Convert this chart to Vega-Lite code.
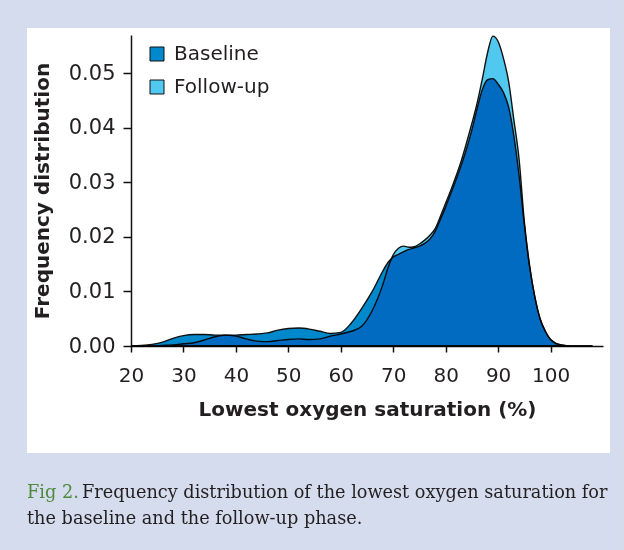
{
  "$schema": "https://vega.github.io/schema/vega-lite/v6.json",
  "width": 472,
  "height": 311,
  "autosize": {"type": "none"},
  "padding": {"left": 131, "top": 35, "right": 21, "bottom": 204},
  "background": "white",
  "config": {
    "view": {"stroke": null},
    "font": "DejaVu Sans",
    "axis": {
      "grid": false, "ticks": true, "domainColor": "#111", "domainWidth": 1.5,
      "tickColor": "#111", "tickWidth": 1.5, "labelFlush": false,
      "labelFont": "DejaVu Sans", "labelColor": "#231f20",
      "titleFont": "DejaVu Sans", "titleFontSize": 20, "titleFontWeight": "bold", "titleColor": "#231f20"
    },
    "axisX": {"tickSize": 6, "labelPadding": 13, "labelFontSize": 20, "titlePadding": 14},
    "axisY": {"tickSize": 8, "labelPadding": 8, "labelFontSize": 21, "titlePadding": 16}
  },
  "datasets": {
    "density": [
      {"s":20,"d":0,"p":"Baseline"},{"s":22,"d":0.0001,"p":"Baseline"},{"s":24,"d":0.0003,"p":"Baseline"},{"s":26,"d":0.0007,"p":"Baseline"},{"s":28,"d":0.0014,"p":"Baseline"},{"s":30,"d":0.0019,"p":"Baseline"},{"s":32,"d":0.0021,"p":"Baseline"},{"s":34,"d":0.0021,"p":"Baseline"},{"s":36,"d":0.0020,"p":"Baseline"},{"s":38,"d":0.0020,"p":"Baseline"},{"s":40,"d":0.0020,"p":"Baseline"},{"s":42,"d":0.0021,"p":"Baseline"},{"s":44,"d":0.0022,"p":"Baseline"},{"s":46,"d":0.0024,"p":"Baseline"},{"s":48,"d":0.0029,"p":"Baseline"},{"s":50,"d":0.0032,"p":"Baseline"},{"s":52,"d":0.0033,"p":"Baseline"},{"s":54,"d":0.0031,"p":"Baseline"},{"s":56,"d":0.0027,"p":"Baseline"},{"s":58,"d":0.0023,"p":"Baseline"},{"s":60,"d":0.0025,"p":"Baseline"},{"s":62,"d":0.0042,"p":"Baseline"},{"s":64,"d":0.0069,"p":"Baseline"},{"s":66,"d":0.0100,"p":"Baseline"},{"s":68,"d":0.0137,"p":"Baseline"},{"s":69,"d":0.0153,"p":"Baseline"},{"s":70,"d":0.0163,"p":"Baseline"},{"s":71,"d":0.0168,"p":"Baseline"},{"s":72,"d":0.0173,"p":"Baseline"},{"s":73,"d":0.0177,"p":"Baseline"},{"s":74,"d":0.0180,"p":"Baseline"},{"s":75,"d":0.0183,"p":"Baseline"},{"s":76,"d":0.0188,"p":"Baseline"},{"s":77,"d":0.0196,"p":"Baseline"},{"s":78,"d":0.0210,"p":"Baseline"},{"s":79,"d":0.0232,"p":"Baseline"},{"s":80,"d":0.0255,"p":"Baseline"},{"s":81,"d":0.0280,"p":"Baseline"},{"s":82,"d":0.0305,"p":"Baseline"},{"s":83,"d":0.0332,"p":"Baseline"},{"s":84,"d":0.0362,"p":"Baseline"},{"s":85,"d":0.0396,"p":"Baseline"},{"s":86,"d":0.0435,"p":"Baseline"},{"s":87,"d":0.0470,"p":"Baseline"},{"s":88,"d":0.0488,"p":"Baseline"},{"s":89,"d":0.0490,"p":"Baseline"},{"s":90,"d":0.0480,"p":"Baseline"},{"s":91,"d":0.0465,"p":"Baseline"},{"s":92,"d":0.0438,"p":"Baseline"},{"s":93,"d":0.0385,"p":"Baseline"},{"s":94,"d":0.0312,"p":"Baseline"},{"s":95,"d":0.0222,"p":"Baseline"},{"s":96,"d":0.0145,"p":"Baseline"},{"s":97,"d":0.0090,"p":"Baseline"},{"s":98,"d":0.0050,"p":"Baseline"},{"s":99,"d":0.0027,"p":"Baseline"},{"s":100,"d":0.0012,"p":"Baseline"},{"s":101,"d":0.0005,"p":"Baseline"},{"s":102,"d":0.0002,"p":"Baseline"},{"s":104,"d":0,"p":"Baseline"},{"s":108,"d":0,"p":"Baseline"},
      {"s":20,"d":0,"p":"Follow-up"},{"s":22,"d":0,"p":"Follow-up"},{"s":24,"d":0,"p":"Follow-up"},{"s":26,"d":0.0001,"p":"Follow-up"},{"s":28,"d":0.0002,"p":"Follow-up"},{"s":30,"d":0.0004,"p":"Follow-up"},{"s":32,"d":0.0006,"p":"Follow-up"},{"s":34,"d":0.0011,"p":"Follow-up"},{"s":36,"d":0.0017,"p":"Follow-up"},{"s":38,"d":0.0020,"p":"Follow-up"},{"s":40,"d":0.0018,"p":"Follow-up"},{"s":42,"d":0.0013,"p":"Follow-up"},{"s":44,"d":0.0009,"p":"Follow-up"},{"s":46,"d":0.0008,"p":"Follow-up"},{"s":48,"d":0.0010,"p":"Follow-up"},{"s":50,"d":0.0012,"p":"Follow-up"},{"s":52,"d":0.0013,"p":"Follow-up"},{"s":54,"d":0.0012,"p":"Follow-up"},{"s":56,"d":0.0013,"p":"Follow-up"},{"s":58,"d":0.0018,"p":"Follow-up"},{"s":60,"d":0.0022,"p":"Follow-up"},{"s":62,"d":0.0027,"p":"Follow-up"},{"s":64,"d":0.0036,"p":"Follow-up"},{"s":66,"d":0.0065,"p":"Follow-up"},{"s":68,"d":0.0112,"p":"Follow-up"},{"s":69,"d":0.0143,"p":"Follow-up"},{"s":70,"d":0.0167,"p":"Follow-up"},{"s":71,"d":0.0179,"p":"Follow-up"},{"s":72,"d":0.0183,"p":"Follow-up"},{"s":73,"d":0.0181,"p":"Follow-up"},{"s":74,"d":0.0182,"p":"Follow-up"},{"s":75,"d":0.0187,"p":"Follow-up"},{"s":76,"d":0.0194,"p":"Follow-up"},{"s":77,"d":0.0203,"p":"Follow-up"},{"s":78,"d":0.0215,"p":"Follow-up"},{"s":79,"d":0.0238,"p":"Follow-up"},{"s":80,"d":0.0262,"p":"Follow-up"},{"s":81,"d":0.0286,"p":"Follow-up"},{"s":82,"d":0.0312,"p":"Follow-up"},{"s":83,"d":0.0340,"p":"Follow-up"},{"s":84,"d":0.0373,"p":"Follow-up"},{"s":85,"d":0.0408,"p":"Follow-up"},{"s":86,"d":0.0445,"p":"Follow-up"},{"s":87,"d":0.0490,"p":"Follow-up"},{"s":88,"d":0.0538,"p":"Follow-up"},{"s":89,"d":0.0568,"p":"Follow-up"},{"s":90,"d":0.0558,"p":"Follow-up"},{"s":91,"d":0.0528,"p":"Follow-up"},{"s":92,"d":0.0485,"p":"Follow-up"},{"s":93,"d":0.0415,"p":"Follow-up"},{"s":94,"d":0.0342,"p":"Follow-up"},{"s":95,"d":0.0228,"p":"Follow-up"},{"s":96,"d":0.0148,"p":"Follow-up"},{"s":97,"d":0.0090,"p":"Follow-up"},{"s":98,"d":0.0050,"p":"Follow-up"},{"s":99,"d":0.0027,"p":"Follow-up"},{"s":100,"d":0.0012,"p":"Follow-up"},{"s":101,"d":0.0005,"p":"Follow-up"},{"s":102,"d":0.0002,"p":"Follow-up"},{"s":104,"d":0,"p":"Follow-up"},{"s":108,"d":0,"p":"Follow-up"}
    ]
  },
  "layer": [
    {
      "data": {"name": "density"},
      "mark": {"type": "area", "interpolate": "monotone", "blend": "multiply", "stroke": "#111", "strokeWidth": 1.4},
      "encoding": {
        "x": {"field": "s", "type": "quantitative", "scale": {"domain": [20, 110], "nice": false, "zero": false}, "axis": {"title": "Lowest oxygen saturation (%)", "values": [20, 30, 40, 50, 60, 70, 80, 90, 100]}},
        "y": {"field": "d", "type": "quantitative", "stack": null, "scale": {"domain": [0, 0.057], "nice": false, "zero": true}, "axis": {"title": "Frequency distribution", "values": [0, 0.01, 0.02, 0.03, 0.04, 0.05], "format": ".2f"}},
        "color": {
          "field": "p", "type": "nominal",
          "scale": {"domain": ["Baseline", "Follow-up"], "range": ["#0088cc", "#50c8f0"]},
          "legend": {
            "title": null, "orient": "none", "legendX": 16, "legendY": 9,
            "symbolType": "square", "symbolSize": 196, "symbolStrokeColor": "#111", "symbolStrokeWidth": 1, "symbolOpacity": 1,
            "labelFont": "DejaVu Sans", "labelFontSize": 20, "labelColor": "#231f20", "labelOffset": 7, "rowPadding": 13
          }
        }
      }
    },
    {
      "data": {"values": [{"k": "frame-top"}]},
      "mark": {"type": "rect", "fill": "#d4dcee"},
      "encoding": {
        "x": {"datum": -6, "type": "quantitative"}, "x2": {"datum": 115},
        "y": {"datum": 0.0583, "type": "quantitative"}, "y2": {"datum": 0.065}
      }
    },
    {
      "data": {"values": [{"k": "frame-bottom"}]},
      "mark": {"type": "rect", "fill": "#d4dcee"},
      "encoding": {
        "x": {"datum": -6, "type": "quantitative"}, "x2": {"datum": 115},
        "y": {"datum": -0.0196, "type": "quantitative"}, "y2": {"datum": -0.039}
      }
    },
    {
      "data": {"values": [{"k": "frame-left"}]},
      "mark": {"type": "rect", "fill": "#d4dcee"},
      "encoding": {
        "x": {"datum": -6, "type": "quantitative"}, "x2": {"datum": 0.17},
        "y": {"datum": -0.039, "type": "quantitative"}, "y2": {"datum": 0.065}
      }
    },
    {
      "data": {"values": [{"k": "frame-right"}]},
      "mark": {"type": "rect", "fill": "#d4dcee"},
      "encoding": {
        "x": {"datum": 111.34, "type": "quantitative"}, "x2": {"datum": 115},
        "y": {"datum": -0.039, "type": "quantitative"}, "y2": {"datum": 0.065}
      }
    },
    {
      "data": {"values": [{"t": "Fig 2."}]},
      "mark": {"type": "text", "align": "left", "baseline": "alphabetic", "font": "DejaVu Serif", "fontSize": 17.7, "fill": "#4e8a3e"},
      "encoding": {
        "x": {"datum": 0.17, "type": "quantitative"},
        "y": {"datum": -0.02786, "type": "quantitative"},
        "text": {"field": "t"}
      }
    },
    {
      "data": {"values": [{"t": "Frequency distribution of the lowest oxygen saturation for"}]},
      "mark": {"type": "text", "align": "left", "baseline": "alphabetic", "font": "DejaVu Serif", "fontSize": 17.7, "fill": "#231f20"},
      "encoding": {
        "x": {"datum": 10.66, "type": "quantitative"},
        "y": {"datum": -0.02786, "type": "quantitative"},
        "text": {"field": "t"}
      }
    },
    {
      "data": {"values": [{"t": "the baseline and the follow-up phase."}]},
      "mark": {"type": "text", "align": "left", "baseline": "alphabetic", "font": "DejaVu Serif", "fontSize": 17.7, "fill": "#231f20"},
      "encoding": {
        "x": {"datum": 0.17, "type": "quantitative"},
        "y": {"datum": -0.03262, "type": "quantitative"},
        "text": {"field": "t"}
      }
    }
  ]
}
